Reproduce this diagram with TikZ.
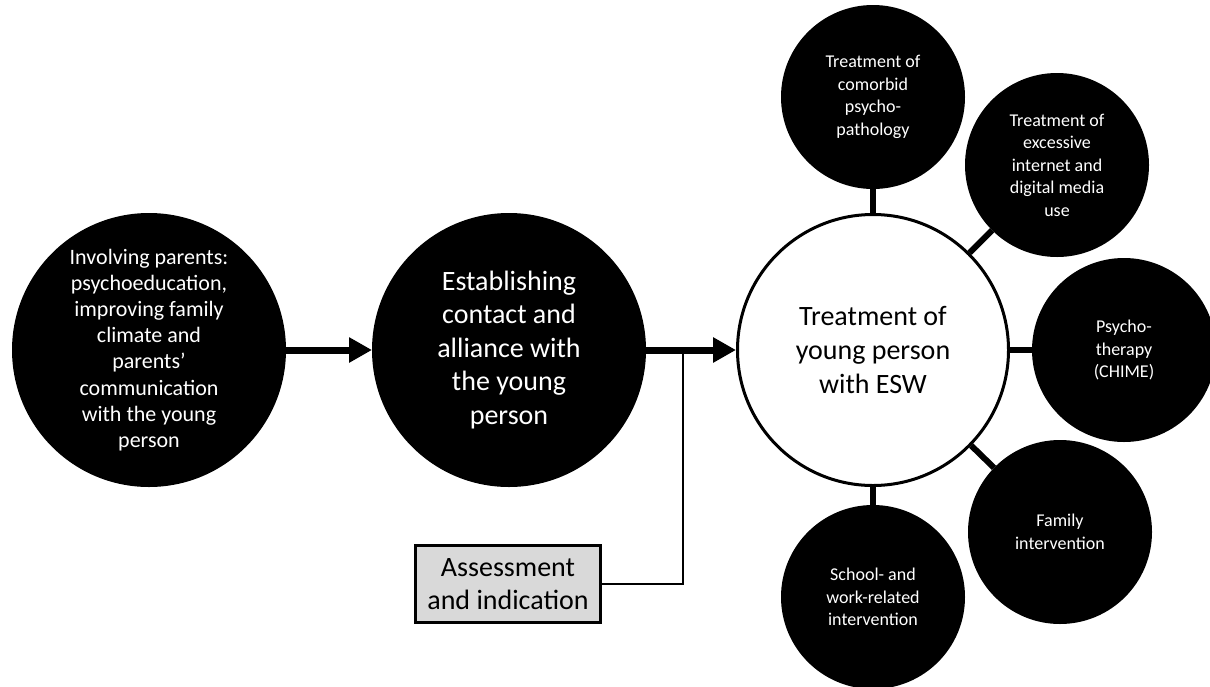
\documentclass[tikz,border=0pt]{standalone}
\usepackage{fontspec}
\setmainfont{Carlito}
\usetikzlibrary{arrows.meta}

\tikzset{
  bigdisc/.style={circle, fill=black, text=white, inner sep=0pt, outer sep=0pt,
    minimum size=274pt, align=center},
  smalldisc/.style={circle, fill=black, text=white, inner sep=0pt, outer sep=0pt,
    minimum size=184pt, align=center, font=\fontsize{18}{22.5}\selectfont},
  hubdisc/.style={circle, fill=white, draw=black, line width=3pt, inner sep=0pt,
    minimum size=271pt, align=center, font=\fontsize{28}{34}\selectfont},
  infobox/.style={rectangle, fill=black!15, draw=black, line width=3pt,
    minimum width=185pt, minimum height=77pt, inner sep=0pt, align=center,
    font=\fontsize{28}{33}\selectfont},
  flowarrow/.style={line width=7pt, -{Triangle[length=23pt,width=24pt]}},
  spoke/.style={line width=6pt},
  feedline/.style={line width=2.5pt}
}

\begin{document}
\begin{tikzpicture}[x=1pt, y=-1pt]
  \clip (0,0) rectangle (1210,686);

  % main sequence
  \node[bigdisc, font=\fontsize{22}{26.2}\selectfont] (parents) at (149,350)
    {Involving parents:\\psychoeducation,\\improving family\\climate and\\parents’\\communication\\with the young\\person};
  \node[bigdisc, font=\fontsize{28}{33.5}\selectfont] (contact) at (509,350)
    {Establishing\\contact and\\alliance with\\the young\\person};
  \node[hubdisc] (hub) at (873,350)
    {Treatment of\\young person\\with ESW};

  % treatment modules around the hub
  \node[smalldisc] (comorbid) at (873,97)
    {Treatment of\\comorbid\\psycho-\\pathology};
  \node[smalldisc] (internet) at (1057,165)
    {Treatment of\\excessive\\internet and\\digital media\\use};
  \node[smalldisc] (psycho) at (1124,350)
    {Psycho-\\therapy\\(CHIME)};
  \node[smalldisc] (family) at (1060,532)
    {Family\\intervention};
  \node[smalldisc] (school) at (873,597)
    {School- and\\work-related\\intervention};

  \node[infobox] (assess) at (508,584) {Assessment\\and indication};
  \coordinate (join) at (683,350);

  % connectors
  \draw[flowarrow] (parents.east) -- (contact.west);
  \draw[flowarrow] (contact.east) -- (hub.west);
  \draw[feedline] (assess.east) -| (join);

  \foreach \m in {comorbid, internet, psycho, family, school}
    \draw[spoke] (hub) -- (\m);
\end{tikzpicture}
\end{document}
